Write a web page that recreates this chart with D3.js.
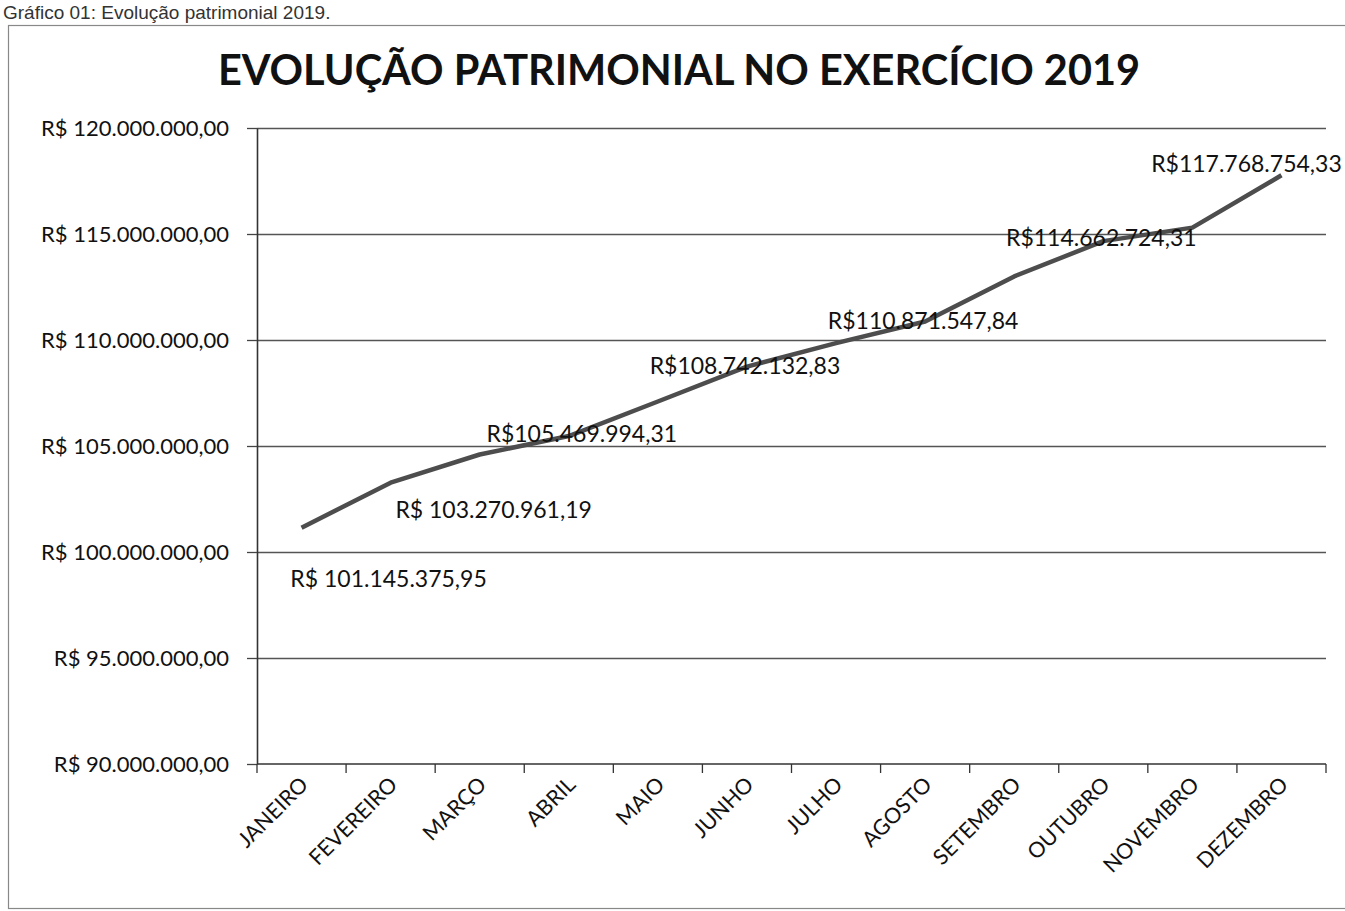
<!DOCTYPE html>
<html>
<head>
<meta charset="utf-8">
<script src="https://cdn.jsdelivr.net/npm/d3@7"></script>
<style>
  body { margin: 0; background: #fff; }
  svg { display: block; }
</style>
</head>
<body>
<svg id="chart" width="1345" height="911"></svg>
<script>
const months = ["JANEIRO", "FEVEREIRO", "MARÇO", "ABRIL", "MAIO", "JUNHO",
  "JULHO", "AGOSTO", "SETEMBRO", "OUTUBRO", "NOVEMBRO", "DEZEMBRO"];
// unlabelled months
const patrimonio = [101145375.95, 103270961.19, 104600000, 105469994.31, 107100000, 108742132.83,
  109850000, 110871547.84, 113000000, 114662724.31, 115300000, 117768754.33];
const dataLabels = ["R$ 101.145.375,95", "R$ 103.270.961,19", null, "R$105.469.994,31", null, "R$108.742.132,83",
  null, "R$110.871.547,84", null, "R$114.662.724,31", null, "R$117.768.754,33"];
const yTicks = [90000000, 95000000, 100000000, 105000000, 110000000, 115000000, 120000000];

// where Excel left each label, relative to its point (dx = centre, dy = baseline)
const labelShift = {
  0: [87, 59], 1: [103, 35], 3: [13, 6], 5: [-2, 7], 7: [-2, 7], 9: [-2, 5], 11: [-35, -3]
};

const svg = d3.select("#chart");
const margin = {top: 128, right: 19, bottom: 147, left: 257};
const W = 1345, H = 911;

const ptBR = d3.formatLocale({decimal: ",", thousands: ".", grouping: [3], currency: ["R$ ", ""]});
const money = ptBR.format("$,.2f");

const x = d3.scaleBand().domain(months).range([margin.left, W - margin.right]).padding(0);
const y = d3.scaleLinear().domain([90000000, 120000000]).range([H - margin.bottom, margin.top]);

// caption + outer frame
svg.append("text")
  .attr("x", 3).attr("y", 19)
  .attr("font-family", "Liberation Sans, Arial, sans-serif")
  .attr("font-size", 19).attr("fill", "#333")
  .text("Gráfico 01: Evolução patrimonial 2019.");

svg.append("rect")
  .attr("x", 8.5).attr("y", 25.5).attr("width", 1345).attr("height", 883)
  .attr("fill", "none").attr("stroke", "#888").attr("stroke-width", 1.2);

svg.append("text")
  .attr("x", 679).attr("y", 85)
  .attr("text-anchor", "middle")
  .attr("font-family", "Lato, sans-serif").attr("font-weight", "bold")
  .attr("font-size", 41.5).attr("fill", "#111")
  .text("EVOLUÇÃO PATRIMONIAL NO EXERCÍCIO 2019");

// gridlines
svg.append("g")
  .attr("transform", `translate(${margin.left},0)`)
  .call(d3.axisLeft(y).tickValues(yTicks.slice(1)).tickSize(-(W - margin.left - margin.right)).tickFormat(""))
  .call(g => g.select(".domain").remove())
  .call(g => g.selectAll("line").attr("stroke", "#555").attr("stroke-width", 1.3));

// y axis
svg.append("g")
  .attr("transform", `translate(${margin.left},0)`)
  .call(d3.axisLeft(y).tickValues(yTicks).tickSizeInner(10).tickSizeOuter(0).tickPadding(18).tickFormat(money))
  .call(g => g.select(".domain").attr("stroke", "#333").attr("stroke-width", 1.6))
  .call(g => g.selectAll("line").attr("stroke", "#444").attr("stroke-width", 1.3))
  .call(g => g.selectAll("text")
    .attr("font-family", "Lato, sans-serif").attr("font-size", 22).attr("fill", "#111"));

// x axis, Excel style ticks between categories
const xAxis = svg.append("g");
const y0 = y(90000000);
xAxis.append("line")
  .attr("x1", x.range()[0]).attr("x2", x.range()[1])
  .attr("y1", y0).attr("y2", y0)
  .attr("stroke", "#333").attr("stroke-width", 1.6);
xAxis.selectAll("line.tick")
  .data(months.map(m => x(m)).concat([x.range()[1]]))
  .join("line").attr("class", "tick")
  .attr("x1", d => d).attr("x2", d => d)
  .attr("y1", y0).attr("y2", y0 + 9)
  .attr("stroke", "#333").attr("stroke-width", 1.3);
xAxis.selectAll("text")
  .data(months)
  .join("text")
  .attr("transform", d => `translate(${x(d) + x.bandwidth() / 2 + 8},${y0 + 22})rotate(-45)`)
  .attr("text-anchor", "end")
  .attr("font-family", "Lato, sans-serif").attr("font-size", 21.5).attr("fill", "#111")
  .text(d => d);

// the line
const line = d3.line()
  .x((d, i) => x(months[i]) + x.bandwidth() / 2)
  .y(d => y(d));

svg.append("path")
  .datum(patrimonio)
  .attr("fill", "none")
  .attr("stroke", "#4d4d4d")
  .attr("stroke-width", 4.5)
  .attr("stroke-linejoin", "round")
  .attr("d", line);

// data labels
svg.append("g")
  .selectAll("text")
  .data(patrimonio.map((v, i) => ({v, i, t: dataLabels[i]})).filter(d => d.t))
  .join("text")
  .attr("x", d => x(months[d.i]) + x.bandwidth() / 2 + labelShift[d.i][0])
  .attr("y", d => y(d.v) + labelShift[d.i][1])
  .attr("text-anchor", "middle")
  .attr("font-family", "Lato, sans-serif").attr("font-size", 23).attr("fill", "#111")
  .text(d => d.t);
</script>
</body>
</html>
